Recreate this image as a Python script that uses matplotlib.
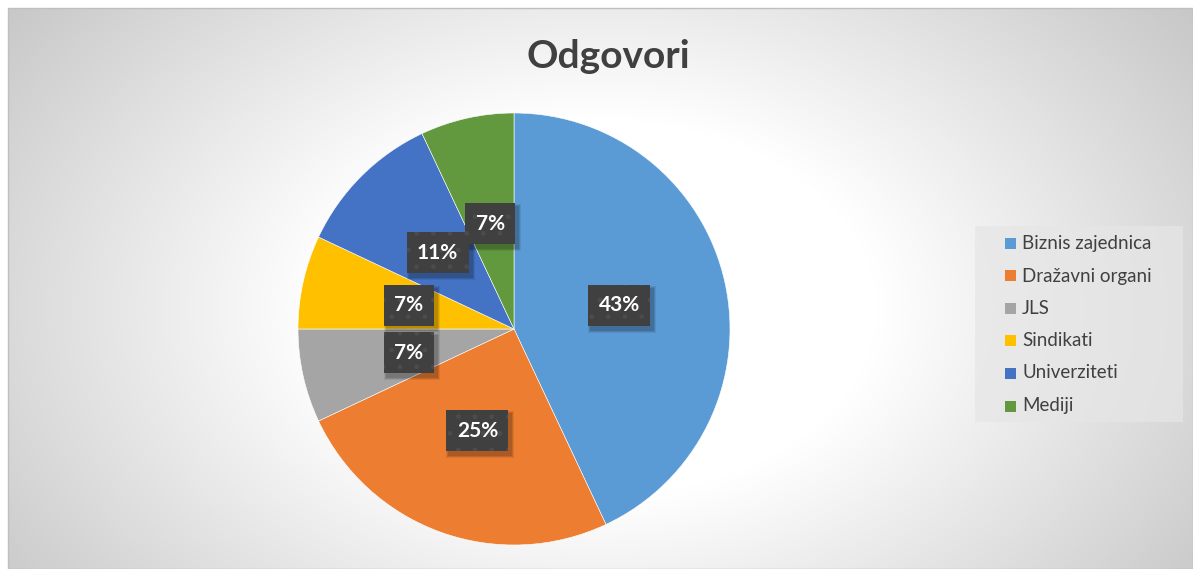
import numpy as np
import matplotlib
matplotlib.use("Agg")
import matplotlib.pyplot as plt
from matplotlib.patches import Rectangle
from matplotlib.transforms import IdentityTransform

categories = ["Biznis zajednica", "Dražavni organi", "JLS", "Sindikati", "Univerziteti", "Mediji"]
values = [43, 25, 7, 7, 11, 7]
colors = ["#5B9BD5", "#ED7D31", "#A5A5A5", "#FFC000", "#4472C4", "#62993E"]
title = "Odgovori"

W, H = 1193, 569
fig = plt.figure(figsize=(W / 100, H / 100), dpi=100)
fig.patch.set_facecolor("white")
FONT = ["Lato", "DejaVu Sans"]

def fx(px):
    return px / W

def fy(py):
    return 1 - py / H

# background gradient
bg = fig.add_axes([8 / W, 0, 1 - 8 / W, 1 - 8 / H])
bg.set_axis_off()
w, h = W - 8, H - 8
yy, xx = np.mgrid[0:h, 0:w]
cx, cy = 590, 300
d = np.sqrt(((xx - cx) / 620.0) ** 2 + ((yy - cy) / 420.0) ** 2)
t = np.clip((d - 0.45) / 0.75, 0, 1)
val = 1.0 - 0.22 * t
img = np.dstack([val, val, val])
bg.imshow(img, extent=[0, 1, 0, 1], aspect="auto", origin="upper", interpolation="bilinear")
bg.set_xlim(0, 1)
bg.set_ylim(0, 1)
fig.patches.append(Rectangle((8 / W, 0), 1 - 8 / W, 1 - 8 / H, transform=fig.transFigure,
                             fill=False, ec="#BFBFBF", lw=1, zorder=5))

# pie
pcx, pcy, R = 514, 329, 216
ax = fig.add_axes([(pcx - R) / W, 1 - (pcy + R) / H, 2 * R / W, 2 * R / H])
ax.set_axis_off()
wedges, texts, autotexts = ax.pie(
    values, colors=colors, startangle=90, counterclock=False, radius=1.0,
    autopct=lambda p: f"{p:.0f}%", pctdistance=0.5,
    wedgeprops=dict(edgecolor="white", linewidth=0.4),
    textprops=dict(color="white", fontsize=15, fontweight="bold", family=FONT, zorder=6),
)
ax.set_xlim(-1, 1)
ax.set_ylim(-1, 1)
ax.set_aspect("equal")
for at in autotexts:
    at.set_bbox(dict(boxstyle="square,pad=0.5", fc="#404040", ec="#4C4C4C", lw=0, hatch="."))

# soft shadows behind label boxes
fig.canvas.draw()
renderer = fig.canvas.get_renderer()
for at in autotexts:
    bb = at.get_bbox_patch().get_window_extent(renderer)
    for k, a in enumerate([0.08, 0.10, 0.12]):
        g = 3 - k
        ax.add_patch(Rectangle((bb.x0 + 3 - g, bb.y0 - 4 - g), bb.width + 2 * g, bb.height + 2 * g,
                               transform=IdentityTransform(), fc=(0, 0, 0, a), ec="none",
                               zorder=5, clip_on=False))

# title
fig.text(fx(608), fy(56), title, ha="center", va="center", fontsize=28,
         fontweight="bold", color="#404040", family=FONT)

# legend (manual)
fig.patches.append(Rectangle((fx(975), fy(422)), (1183 - 975) / W, (422 - 226) / H,
                             transform=fig.transFigure, fc="#E6E6E6", alpha=0.7,
                             ec="none", zorder=3))
row_y = [243, 276, 308, 340, 373, 406]
for cat, col, ry in zip(categories, colors, row_y):
    fig.patches.append(Rectangle((fx(1005), fy(ry + 5.5)), 11 / W, 11 / H,
                                 transform=fig.transFigure, fc=col, ec="none", zorder=4))
    fig.text(fx(1022), fy(ry), cat, ha="left", va="center", fontsize=13.5,
             color="#404040", family=FONT, zorder=4)

fig.savefig("out.png", dpi=100)
